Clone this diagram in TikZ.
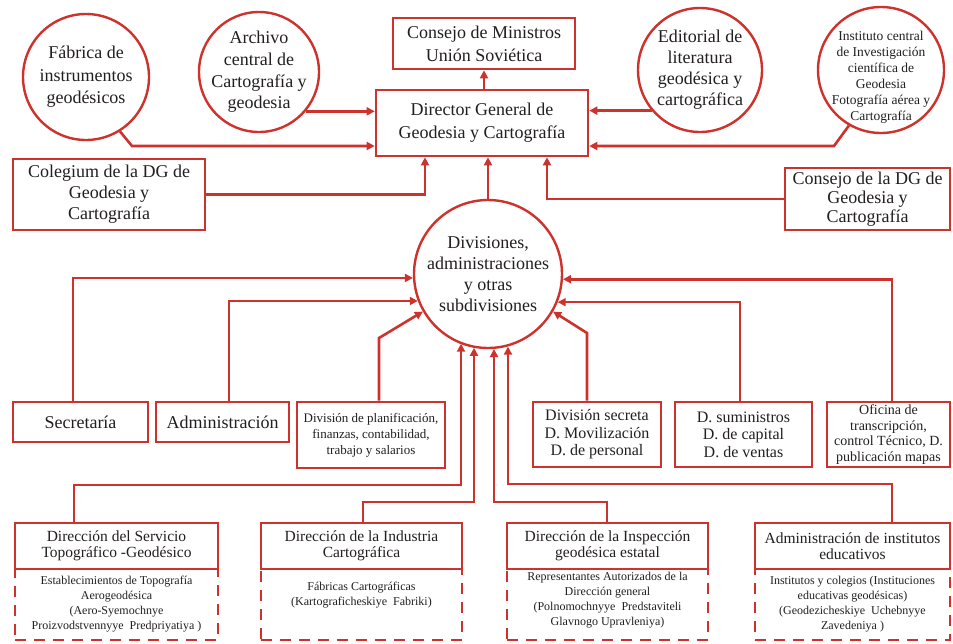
\documentclass[tikz,border=0pt]{standalone}
\usepackage{fontspec}
\setmainfont{Liberation Serif}
\usetikzlibrary{arrows.meta}
\definecolor{mred}{RGB}{206,50,44}
\definecolor{txt}{RGB}{35,31,32}
\begin{document}
\begin{tikzpicture}[x=1pt,y=-1pt,
  every node/.style={text=txt, align=center, inner sep=0pt},
  bx/.style={draw=mred, line width=2.6pt, fill=white, rectangle},
  cir/.style={draw=mred, line width=2.4pt, fill=white, circle},
  dsh/.style={draw=mred, line width=2.6pt, dash pattern=on 11pt off 8pt, rectangle},
  conn/.style={draw=mred, line width=2.6pt, -{Triangle[length=8pt,width=8pt]}},
  fbig/.style={font=\fontsize{18}{22}\selectfont},
  fmid/.style={font=\fontsize{16}{17.5}\selectfont},
  ftitle/.style={font=\fontsize{15.5}{16.5}\selectfont},
  fsm/.style={font=\fontsize{13}{16}\selectfont},
  ftiny/.style={font=\fontsize{12}{15}\selectfont}]
\useasboundingbox (0,0) rectangle (953,643);
\fill[white] (0,0) rectangle (953,643);

% top level
\node[bx, fbig, font=\fontsize{18}{23}\selectfont, minimum width=182pt, minimum height=51pt] (cm) at (484,43.5) {Consejo de Ministros\\Unión Soviética};
\node[bx, fbig, font=\fontsize{18}{23}\selectfont, minimum width=212pt, minimum height=66pt] (dg) at (482,123) {Director General de\\Geodesia y Cartografía};
\node[cir, fbig, font=\fontsize{18}{22.5}\selectfont, minimum size=126pt] (fab) at (86,77) {Fábrica de\\instrumentos\\geodésicos};
\node[cir, fbig, font=\fontsize{18}{21.7}\selectfont, minimum size=120pt, inner sep=-5pt] (arc) at (259,72) {Archivo\\central de\\Cartografía y\\geodesia};
\node[cir, fbig, font=\fontsize{18}{21}\selectfont, minimum size=124pt, inner sep=-3pt] (edi) at (700,70) {Editorial de\\literatura\\geodésica y\\cartográfica};
\node[cir, font=\fontsize{13.5}{16}\selectfont, minimum size=126pt, inner sep=-14pt] (ins) at (881,70) {\rule{0pt}{24pt}Instituto central\\de Investigación\\científica de\\Geodesia\\Fotografía aérea y\\Cartografía};
\node[bx, fbig, font=\fontsize{18}{21}\selectfont, minimum width=192pt, minimum height=71pt] (col) at (109,194.5) {Colegium de la DG de\\Geodesia y\\Cartografía};
\node[bx, fbig, font=\fontsize{18}{19}\selectfont, minimum width=165pt, minimum height=62pt] (cdg) at (867.5,199) {Consejo de la DG de\\Geodesia y\\Cartografía};
\node[cir, fbig, font=\fontsize{18}{21}\selectfont, minimum size=148pt, inner sep=-3pt] (div) at (488,274) {Divisiones,\\administraciones\\y otras\\subdivisiones};

% middle row
\node[bx, fbig, minimum width=135pt, minimum height=40pt] (sec) at (80.5,422) {Secretaría};
\node[bx, fbig, minimum width=133pt, minimum height=40pt] (adm) at (222.5,422) {Administración};
\node[bx, fsm, minimum width=148pt, minimum height=66pt] (plan) at (371,435) {División de planificación,\\finanzas, contabilidad,\\trabajo y salarios};
\node[bx, fmid, minimum width=128pt, minimum height=65pt] (secr) at (597,434.5) {División secreta\\D. Movilización\\D. de personal};
\node[bx, fmid, minimum width=137pt, minimum height=65pt] (sum) at (743.5,434.5) {D. suministros\\D. de capital\\D. de ventas};
\node[bx, font=\fontsize{14}{15.5}\selectfont, minimum width=123pt, minimum height=65pt] (ofi) at (888.5,434.5) {Oficina de\\transcripción,\\control Técnico, D.\\publicación mapas};

% bottom row: dashed lower parts first
\node[dsh, ftiny, minimum width=203pt, minimum height=71pt] (b1l) at (116.5,604.5) {Establecimientos de Topografía\\Aerogeodésica\\(Aero-Syemochnye\\Proizvodstvennyye~~Predpriyatiya )};
\node[dsh, ftiny, minimum width=201pt, minimum height=71pt] (b2l) at (361.5,604.5) {Fábricas Cartográficas\\(Kartograficheskiye~~Fabriki)\\[6pt]\mbox{}};
\node[dsh, ftiny, minimum width=201pt, minimum height=71pt] (b3l) at (607.5,604.5) {Representantes Autorizados de la\\Dirección general\\(Polnomochnyye~~Predstaviteli\\Glavnogo Upravleniya)\\[-4pt]\mbox{}};
\node[dsh, ftiny, minimum width=195pt, minimum height=71pt] (b4l) at (852.5,604.5) {Institutos y colegios (Instituciones\\educativas geodésicas)\\(Geodezicheskiye~~Uchebnyye\\Zavedeniya )};
\node[bx, ftitle, minimum width=203pt, minimum height=46pt] (b1) at (116.5,546) {Dirección del Servicio\\Topográfico -Geodésico};
\node[bx, ftitle, minimum width=201pt, minimum height=46pt] (b2) at (361.5,546) {Dirección de la Industria\\Cartográfica};
\node[bx, ftitle, minimum width=201pt, minimum height=46pt] (b3) at (607.5,546) {Dirección de la Inspección\\geodésica estatal};
\node[bx, ftitle, minimum width=195pt, minimum height=46pt] (b4) at (852.5,546) {Administración de institutos\\educativos};

% connectors to top
\draw[conn] (dg.north -| cm.south) -- (cm.south);
\coordinate (fk) at (132,146);
\draw[conn] (fab.-58) -- (fk) -- (fk -| dg.west);
\draw[conn] (arc.-40) -- (arc.-40 -| dg.west);
\draw[conn] (edi.220) -- (edi.220 -| dg.east);
\coordinate (ik) at (834,146);
\draw[conn] (ins.240) -- (ik) -- (ik -| dg.east);
\coordinate (ck) at (425,194.5);
\draw[conn] (col.east) -- (ck) -- (ck |- dg.south);
\coordinate (dk) at (547,199);
\draw[conn] (cdg.west) -- (dk) -- (dk |- dg.south);
\draw[conn] (div.north) -- (div.north |- dg.south);

% middle connectors
\draw[conn] ([xshift=-7.5pt]sec.north) |- (div.183);
\draw[conn] ([xshift=6.5pt]adm.north) |- (div.201.4);
\coordinate (pk) at (379,338);
\draw[conn] (pk |- plan.north) -- (pk) -- (div.210);
\coordinate (sk) at (587,333);
\draw[conn] (sk |- secr.north) -- (sk) -- (div.330);
\draw[conn] ([xshift=-3.5pt]sum.north) |- (div.338.6);
\draw[conn] ([xshift=3.5pt]ofi.north) |- (div.356.9);

% bottom connectors
\coordinate (k1a) at (74,485);  \coordinate (k1b) at (461,485);
\draw[conn] (k1a |- b1.north) -- (k1a) -- (k1b) -- (k1b |- div.248.6);
\coordinate (k2a) at (363,502); \coordinate (k2b) at (474,502);
\draw[conn] (k2a |- b2.north) -- (k2a) -- (k2b) -- (k2b |- div.259.1);
\coordinate (k3a) at (607,502); \coordinate (k3b) at (494,502);
\draw[conn] (k3a |- b3.north) -- (k3a) -- (k3b) -- (k3b |- div.274.6);
\coordinate (k4a) at (892,484); \coordinate (k4b) at (508,484);
\draw[conn] (k4a |- b4.north) -- (k4a) -- (k4b) -- (k4b |- div.285.7);
\end{tikzpicture}
\end{document}
